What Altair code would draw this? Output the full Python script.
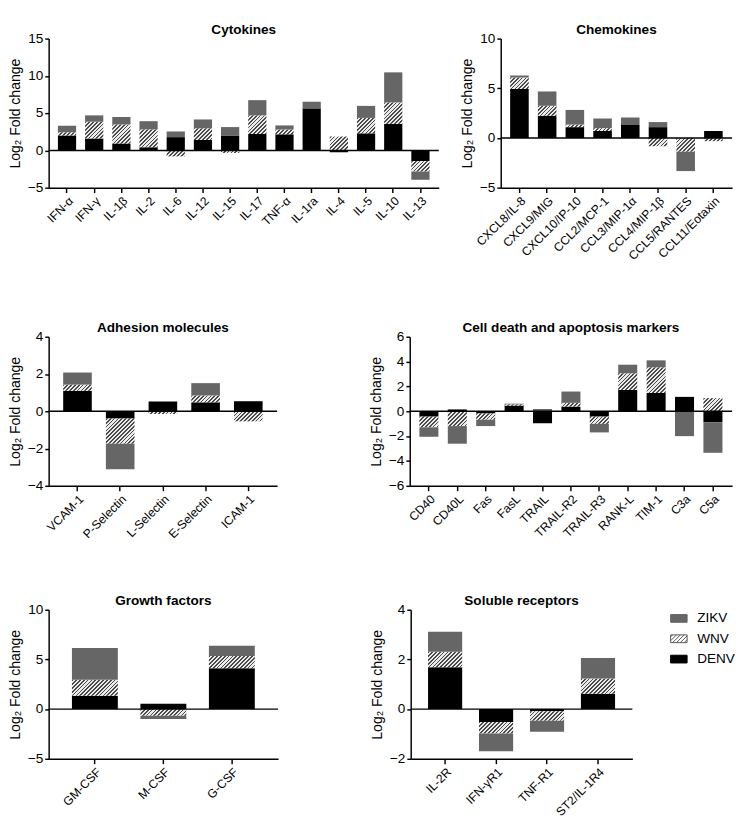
import altair as alt
import pandas as pd

# ---------------- data ----------------
cyto_cats = ["IFN-α", "IFN-γ", "IL-1β", "IL-2", "IL-6", "IL-12", "IL-15", "IL-17",
             "TNF-α", "IL-1ra", "IL-4", "IL-5", "IL-10", "IL-13"]
cyto_denv = [2.0, 1.6, 0.93, 0.42, 1.78, 1.4, 2.0, 2.2, 2.16, 5.64, -0.25, 2.29, 3.56, -1.44]
cyto_wnv = [0.45, 2.25, 2.55, 2.4, -0.8, 1.57, -0.34, 2.5, 0.64, 0.0, 1.86, 2.07, 2.88, -1.4]
cyto_zikv = [0.85, 0.85, 1.0, 1.1, 0.76, 1.18, 1.13, 2.04, 0.55, 0.89, 0.0, 1.61, 4.03, -1.1]

chemo_cats = ["CXCL8/IL-8", "CXCL9/MIG", "CXCL10/IP-10", "CCL2/MCP-1", "CCL3/MIP-1α",
              "CCL4/MIP-1β", "CCL5/RANTES", "CCL11/Eotaxin"]
chemo_denv = [4.94, 2.24, 1.09, 0.70, 1.31, 1.09, 0.0, 0.70]
chemo_wnv = [1.15, 1.0, 0.26, 0.29, 0.0, -0.83, -1.38, -0.32]
chemo_zikv = [0.19, 1.44, 1.47, 0.97, 0.74, 0.51, -1.95, 0.0]

adh_cats = ["VCAM-1", "P-Selectin", "L-Selectin", "E-Selectin", "ICAM-1"]
adh_denv = [1.1, -0.39, 0.53, 0.48, 0.54]
adh_wnv = [0.33, -1.35, -0.15, 0.37, -0.54]
adh_zikv = [0.65, -1.37, 0.0, 0.66, 0.0]

death_cats = ["CD40", "CD40L", "Fas", "FasL", "TRAIL", "TRAIL-R2", "TRAIL-R3", "RANK-L",
              "TIM-1", "C3a", "C5a"]
death_denv = [-0.43, 0.15, -0.18, 0.46, -0.96, 0.38, -0.43, 1.72, 1.47, 1.16, -0.89]
death_wnv = [-0.86, -1.19, -0.5, 0.1, 0.0, 0.3, -0.58, 1.34, 2.07, 0.0, 1.06]
death_zikv = [-0.76, -1.42, -0.51, 0.05, 0.18, 0.91, -0.69, 0.69, 0.56, -2.0, -2.45]

growth_cats = ["GM-CSF", "M-CSF", "G-CSF"]
growth_denv = [1.34, 0.54, 4.11]
growth_wnv = [1.62, -0.67, 1.24]
growth_zikv = [3.19, -0.32, 1.02]

sol_cats = ["IL-2R", "IFN-γR1", "TNF-R1", "ST2/IL-1R4"]
sol_denv = [1.69, -0.52, -0.09, 0.62]
sol_wnv = [0.62, -0.46, -0.38, 0.61]
sol_zikv = [0.8, -0.72, -0.44, 0.83]

legend_order = ["ZIKV", "WNV", "DENV"]

# ---------------- style ----------------
FONT = "Liberation Sans"
C_ZIKV = "#666666"
C_DENV = "#000000"
H_DARK = "#4a4a4a"
H_LIGHT = "#ebebeb"
PI, PO = 0.33, 0.34
YTITLE = "Log₂ Fold change"


def hatch_expr(bar_w, ppu, period=4.0, n=60, frac=0.45):
    L = period * n
    stops = []
    for k in range(n):
        a, b, c = k / n, (k + frac) / n, (k + 1) / n
        stops += [(a, H_DARK), (b, H_DARK), (b, H_LIGHT), (c, H_LIGHT)]
    sjs = ",".join("{offset:%.5f,color:'%s'}" % (o, col) for o, col in stops)
    H = "(abs(datum.value)*%.5f)" % ppu
    W = "%.4f" % bar_w
    D = "(%s*%s+%s*%s)" % (W, W, H, H)
    grad = ("{gradient:'linear',x1:0,y1:0,x2:%s*%s/%s,y2:%s*%s/%s,stops:[%s]}"
            % (L, W, D, L, H, D, sjs))
    return ("datum.virus==='WNV'?%s:(datum.virus==='ZIKV'?'%s':'%s')"
            % (grad, C_ZIKV, C_DENV))


def legend_path():
    s = 8.5
    h = 4.0 / s
    p = 4.0 / s
    parts = ["M-1,%.4fH1V%.4fH-1Z" % (-h, h)]
    c = -1 - h + p / 2
    while c < 1 + h:
        x0 = max(-1.0, c - h)
        x1 = min(1.0, c + h)
        if x1 > x0:
            parts.append("M%.4f,%.4fL%.4f,%.4f" % (x0, c - x0, x1, c - x1))
        c += p
    return "".join(parts)


def panel(title, cats, denv, wnv, zikv, ymin, ymax, ystep, width, height, legend=False):
    n = len(cats)
    df = pd.DataFrame({
        "cat": cats * 3,
        "virus": ["DENV"] * n + ["WNV"] * n + ["ZIKV"] * n,
        "ord": [0] * n + [1] * n + [2] * n,
        "value": denv + wnv + zikv,
    })
    ppu = height / (ymax - ymin)
    step = width / (n - PI + 2 * PO)
    bw = step * (1 - PI)
    xenc = alt.X("cat:N", sort=cats, title=None,
                 scale=alt.Scale(paddingInner=PI, paddingOuter=PO),
                 axis=alt.Axis(labelAngle=-45))
    yscale = alt.Scale(domain=[ymin, ymax], nice=False, zero=False)
    yvals = list(range(ymin, ymax + 1, ystep))
    yaxis = alt.Axis(values=yvals, tickCount=len(yvals) + 2, title=YTITLE,
                     labelOverlap=False)
    yenc = alt.Y("value:Q", stack="zero", scale=yscale, axis=yaxis)
    bars = alt.Chart(df).transform_calculate(
        fillv=hatch_expr(bw, ppu)
    ).mark_bar().encode(
        x=xenc, y=yenc,
        fill=alt.Fill("fillv:N", scale=None),
        detail="virus:N",
        order=alt.Order("ord:Q"),
    )
    zero = alt.Chart(pd.DataFrame({"z": [0]})).mark_rule(
        color="black", strokeWidth=1.5).encode(y=alt.datum(0))
    layers = [bars, zero]
    if legend:
        leg = dict(title=None, orient="right", offset=39, symbolType=legend_path(),
                   symbolSize=289, symbolStrokeWidth=1, symbolOpacity=1,
                   labelFontSize=14, labelFont=FONT,
                   labelColor="black", rowPadding=5, labelOffset=10, padding=0)
        pts = alt.Chart(df).mark_point(filled=True, size=0, opacity=1).encode(
            x=xenc, y=alt.datum(0),
            fill=alt.Fill("virus:N", scale=alt.Scale(domain=legend_order,
                                                    range=[C_ZIKV, "#ffffff", C_DENV]),
                          legend=alt.Legend(**leg)),
            stroke=alt.Stroke("virus:N", scale=alt.Scale(domain=legend_order,
                                                        range=[C_ZIKV, "#555555", C_DENV]),
                              legend=alt.Legend(**leg)),
        )
        layers.append(pts)
    return alt.layer(*layers).properties(width=width, height=height,
                                         title=alt.Title(title))


HGT = 154
p1 = panel("Cytokines", cyto_cats, cyto_denv, cyto_wnv, cyto_zikv, -5, 15, 5, 403, HGT)
p2 = panel("Chemokines", chemo_cats, chemo_denv, chemo_wnv, chemo_zikv, -5, 10, 5, 239, HGT)
p3 = panel("Adhesion molecules", adh_cats, adh_denv, adh_wnv, adh_zikv, -4, 4, 2, 236, HGT)
p4 = panel("Cell death and apoptosis markers", death_cats, death_denv, death_wnv, death_zikv,
           -6, 6, 2, 333, HGT)
p5 = panel("Growth factors", growth_cats, growth_denv, growth_wnv, growth_zikv, -5, 10, 5, 237, HGT)
p6 = panel("Soluble receptors", sol_cats, sol_denv, sol_wnv, sol_zikv, -2, 4, 2, 229, HGT,
           legend=True)

row1 = alt.hconcat(p1, p2, spacing=21)
row2 = alt.hconcat(p3, p4, spacing=94)
row3 = alt.hconcat(p5, p6, spacing=94).resolve_scale(
    fill="independent", stroke="independent"
).resolve_legend(fill="independent", stroke="independent")

chart = alt.vconcat(row1, alt.vconcat(row2, row3, spacing=55), spacing=61).resolve_scale(
    fill="independent", stroke="independent"
).resolve_legend(
    fill="independent", stroke="independent"
).properties(
    padding={"top": 2, "left": 0, "right": 0, "bottom": 0}
).configure(
    font=FONT,
).configure_view(
    stroke=None
).configure_axis(
    domainColor="black", domainWidth=1.5, tickColor="black", tickWidth=1.5,
    labelColor="black", labelFont=FONT, titleFont=FONT, titleColor="black",
    grid=False,
).configure_axisY(
    tickSize=4, labelFontSize=14, labelPadding=2, titleFontSize=14.5,
    titleFontWeight="normal", titlePadding=5, labelOverlap=False,
).configure_axisX(
    tickSize=5, labelFontSize=12.5, labelPadding=2, domainWidth=1.5,
).configure_title(
    font=FONT, fontSize=14, fontWeight="bold", color="black", anchor="middle",
    frame="group", offset=-5,
)

chart.save("out.html", embed_options={"renderer": "svg", "actions": False})
